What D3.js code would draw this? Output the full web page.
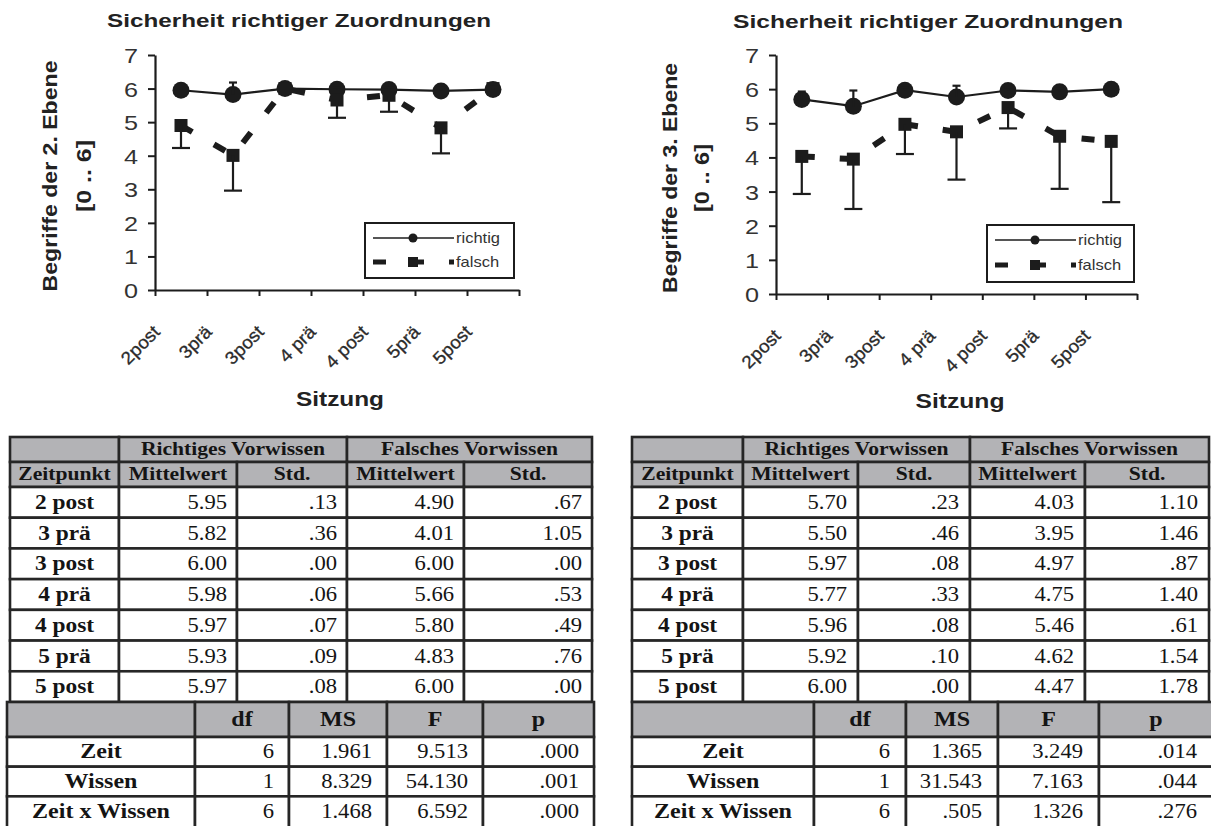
<!DOCTYPE html>
<html><head><meta charset="utf-8">
<script src="https://cdn.jsdelivr.net/npm/d3@7"></script>
<style>body{margin:0;background:#fff} svg{display:block}</style>
</head><body>
<svg id="c" width="1211" height="826"></svg>
<script>
// ---------------- DATA ----------------
const chartLabels = ["2post", "3prä", "3post", "4 prä", "4 post", "5prä", "5post"];
const tableLabels = ["2 post", "3 prä", "3 post", "4 prä", "4 post", "5 prä", "5 post"];
const yTicks = [0, 1, 2, 3, 4, 5, 6, 7];
const chartTitle = "Sicherheit richtiger Zuordnungen";
const xTitle = "Sitzung";
const yTitle2 = "Begriffe der 2. Ebene";
const yTitle3 = "Begriffe der 3. Ebene";
const yTitleSub = "[0 .. 6]";
const seriesNames = ["richtig", "falsch"];

// Ebene 2
const e2RichtigMean = [5.95, 5.82, 6.00, 5.98, 5.97, 5.93, 5.97];
const e2RichtigStd  = [0.13, 0.36, 0.00, 0.06, 0.07, 0.09, 0.08];
const e2FalschMean  = [4.90, 4.01, 6.00, 5.66, 5.80, 4.83, 6.00];
const e2FalschStd   = [0.67, 1.05, 0.00, 0.53, 0.49, 0.76, 0.00];
// Ebene 3
const e3RichtigMean = [5.70, 5.50, 5.97, 5.77, 5.96, 5.92, 6.00];
const e3RichtigStd  = [0.23, 0.46, 0.08, 0.33, 0.08, 0.10, 0.00];
const e3FalschMean  = [4.03, 3.95, 4.97, 4.75, 5.46, 4.62, 4.47];
const e3FalschStd   = [1.10, 1.46, 0.87, 1.40, 0.61, 1.54, 1.78];

// ANOVA
const anovaRows = ["Zeit", "Wissen", "Zeit x Wissen"];
const anovaHeads = ["df", "MS", "F", "p"];
const e2Df = [6, 1, 6];
const e2MS = [1.961, 8.329, 1.468];
const e2F  = [9.513, 54.130, 6.592];
const e2P  = [0.000, 0.001, 0.000];
const e3Df = [6, 1, 6];
const e3MS = [1.365, 31.543, 0.505];
const e3F  = [3.249, 7.163, 1.326];
const e3P  = [0.014, 0.044, 0.276];

const groupHeads = ["Richtiges Vorwissen", "Falsches Vorwissen"];
const colHeads = ["Zeitpunkt", "Mittelwert", "Std.", "Mittelwert", "Std."];

// ---------------- LAYOUT ----------------
const SANS = "'Liberation Sans', Arial, sans-serif";
const SERIF = "'Liberation Serif', 'Times New Roman', serif";
const INK = "#1c1c1c";
const TXT = "#222";
const HEAD = "#b3b3b6";

const svg = d3.select("#c");

function fitW(sel, w) {
  sel.attr("textLength", w).attr("lengthAdjust", "spacingAndGlyphs");
}
function stretch(sel, k) {
  sel.each(function () {
    const L = this.getComputedTextLength();
    this.setAttribute("textLength", L * k);
    this.setAttribute("lengthAdjust", "spacingAndGlyphs");
  });
}

function drawChart(cfg, yTitle, rMean, rStd, fMean, fStd) {
  const g = svg.append("g");
  const p = cfg.plot;
  const x = d3.scaleBand().domain(chartLabels).range([p.x0, p.x1]).padding(0);
  const xb = d3.scaleLinear().domain([0, chartLabels.length]).range([p.x0, p.x1]);
  const y = d3.scaleLinear().domain([0, 7]).range([p.yBot, p.yTop]);
  const cx = (i) => x(chartLabels[i]) + x.bandwidth() / 2;

  // title
  g.append("text").attr("x", cfg.title.cx).attr("y", cfg.title.y)
    .attr("text-anchor", "middle").attr("font-family", SANS).attr("font-weight", "bold")
    .attr("font-size", 19).attr("fill", TXT).text(chartTitle).call(fitW, cfg.title.w);

  // y titles
  g.append("text").attr("transform", `translate(${cfg.ytitle.xa},${cfg.ytitle.cy}) rotate(-90)`)
    .attr("text-anchor", "middle").attr("font-family", SANS).attr("font-weight", "bold")
    .attr("font-size", 20).attr("fill", TXT).text(yTitle).call(fitW, cfg.ytitle.wa);
  g.append("text").attr("transform", `translate(${cfg.ytitle.xb},${cfg.ytitle.cy}) rotate(-90)`)
    .attr("text-anchor", "middle").attr("font-family", SANS).attr("font-weight", "bold")
    .attr("font-size", 20).attr("fill", TXT).text(yTitleSub).call(fitW, cfg.ytitle.wb);

  // y axis
  const ya = g.append("g").attr("transform", `translate(${p.x0},0)`)
    .call(d3.axisLeft(y).tickValues(yTicks).tickFormat(d3.format("d")).tickSize(7).tickSizeOuter(0).tickPadding(10));
  ya.select(".domain").attr("stroke", INK).attr("stroke-width", 2.2);
  ya.selectAll(".tick line").attr("stroke", INK).attr("stroke-width", 2);
  ya.selectAll(".tick text").attr("font-family", SANS).attr("font-size", 21).attr("fill", "#333")
    .attr("dy", "0.36em").call(stretch, 1.2);

  // x axis (ticks at category boundaries)
  const xa = g.append("g").attr("transform", `translate(0,${p.yBot})`)
    .call(d3.axisBottom(xb).tickValues(d3.range(chartLabels.length + 1)).tickFormat("").tickSize(6).tickSizeOuter(0));
  xa.select(".domain").attr("stroke", INK).attr("stroke-width", 2.2);
  xa.selectAll(".tick line").attr("stroke", INK).attr("stroke-width", 2);

  // rotated category labels
  g.selectAll("text.xl").data(chartLabels).join("text").attr("class", "xl")
    .attr("transform", (d, i) => `translate(${cx(i) - 20},${p.yBot + 43}) rotate(-45)`)
    .attr("text-anchor", "end").attr("font-family", SANS).attr("font-size", 18).attr("fill", "#2a2a2a")
    .attr("stroke", "#2a2a2a").attr("stroke-width", 0.3)
    .text(d => d).call(stretch, 1.05);

  // x title
  g.append("text").attr("x", cfg.xtitle.cx).attr("y", cfg.xtitle.y)
    .attr("text-anchor", "middle").attr("font-family", SANS).attr("font-weight", "bold")
    .attr("font-size", 20).attr("fill", TXT).text(xTitle).call(fitW, cfg.xtitle.w);

  const line = d3.line().x((d, i) => cx(i)).y(d => y(d));

  // falsch dashed line
  g.append("path").datum(fMean).attr("d", line).attr("fill", "none")
    .attr("stroke", INK).attr("stroke-width", 6).attr("stroke-dasharray", "13,25");
  // richtig solid line
  g.append("path").datum(rMean).attr("d", line).attr("fill", "none")
    .attr("stroke", INK).attr("stroke-width", 2.2);

  // error bars
  const eb = (mean, std, dir, cap) => {
    const data = mean.map((m, i) => ({ i, m, s: std[i] })).filter(d => d.s > 0);
    const gg = g.append("g").attr("stroke", INK).attr("stroke-width", 2.2);
    gg.selectAll("line.v").data(data).join("line").attr("class", "v")
      .attr("x1", d => cx(d.i)).attr("x2", d => cx(d.i))
      .attr("y1", d => y(d.m)).attr("y2", d => y(d.m + dir * d.s));
    gg.selectAll("line.c").data(data).join("line").attr("class", "c")
      .attr("x1", d => cx(d.i) - cap / 2).attr("x2", d => cx(d.i) + cap / 2)
      .attr("y1", d => y(d.m + dir * d.s)).attr("y2", d => y(d.m + dir * d.s));
  };

  // markers
  g.selectAll("circle.r").data(rMean).join("circle").attr("class", "r")
    .attr("cx", (d, i) => cx(i)).attr("cy", d => y(d)).attr("r", 8.5).attr("fill", INK);
  g.selectAll("rect.f").data(fMean).join("rect").attr("class", "f")
    .attr("x", (d, i) => cx(i) - 6.5).attr("y", d => y(d) - 6.5)
    .attr("width", 13).attr("height", 13).attr("fill", INK);
  eb(rMean, rStd, 1, 8);
  eb(fMean, fStd, -1, 18);

  // legend
  const L = cfg.legend;
  const lg = g.append("g").attr("transform", `translate(${L.x},${L.y})`);
  lg.append("rect").attr("width", L.w).attr("height", L.h).attr("fill", "#fff")
    .attr("stroke", INK).attr("stroke-width", 2);
  const r1 = L.r1, r2 = L.r2;
  lg.append("line").attr("x1", 8).attr("x2", 89).attr("y1", r1).attr("y2", r1)
    .attr("stroke", INK).attr("stroke-width", 1.6);
  lg.append("circle").attr("cx", 48).attr("cy", r1).attr("r", 4.5).attr("fill", INK);
  lg.append("line").attr("x1", 8).attr("x2", 89).attr("y1", r2).attr("y2", r2)
    .attr("stroke", INK).attr("stroke-width", 5).attr("stroke-dasharray", "13,25");
  lg.append("rect").attr("x", 43).attr("y", r2 - 5).attr("width", 10).attr("height", 10).attr("fill", INK);
  lg.selectAll("text").data(seriesNames).join("text")
    .attr("x", 91).attr("y", (d, i) => (i ? r2 : r1) + 5)
    .attr("font-family", SANS).attr("font-size", 15).attr("fill", "#333")
    .text(d => d).call(stretch, 1.1);
}

const fmt2 = d3.format(".2f");
const noLead = s => s.replace(/^0\./, ".");
const fmtStd = v => noLead(fmt2(v));
const fmt3 = v => noLead(d3.format(".3f")(v));

function drawTables(cfg, rMean, rStd, fMean, fStd, df, ms, F, P) {
  const g = svg.append("g");
  const c = cfg.cols, yTop = cfg.yTop, yH1 = yTop + 25, yH2 = yH1 + 25, yEnd = cfg.yEnd;
  const rh = (yEnd - yH2) / tableLabels.length;
  const cells = [];
  // header row 1
  cells.push({ x0: c[0], x1: c[1], y0: yTop, y1: yH1, fill: HEAD, t: "" });
  cells.push({ x0: c[1], x1: c[3], y0: yTop, y1: yH1, fill: HEAD, t: groupHeads[0], a: "middle", b: 1, fs: 18, k: 1.2 });
  cells.push({ x0: c[3], x1: c[5], y0: yTop, y1: yH1, fill: HEAD, t: groupHeads[1], a: "middle", b: 1, fs: 18, k: 1.2 });
  colHeads.forEach((h, j) => cells.push({ x0: c[j], x1: c[j + 1], y0: yH1, y1: yH2, fill: HEAD, t: h, a: "middle", b: 1, fs: 18, k: 1.2 }));
  tableLabels.forEach((lab, i) => {
    const y0 = yH2 + i * rh, y1 = y0 + rh;
    const vals = [lab, fmt2(rMean[i]), fmtStd(rStd[i]), fmt2(fMean[i]), fmtStd(fStd[i])];
    vals.forEach((v, j) => cells.push({ x0: c[j], x1: c[j + 1], y0, y1, fill: "#fff", t: v,
      a: j ? "end" : "middle", b: j ? 0 : 1, fs: 20, k: j ? 1.13 : 1.17, pad: cfg.pad }));
  });
  // ANOVA
  const a = cfg.acols, aTop = yEnd, aH = aTop + 35;
  const arh = (826 - aH) / anovaRows.length;
  cells.push({ x0: a[0], x1: a[1], y0: aTop, y1: aH, fill: HEAD, t: "" });
  anovaHeads.forEach((h, j) => cells.push({ x0: a[j + 1], x1: a[j + 2], y0: aTop, y1: aH, fill: HEAD, t: h, a: "middle", b: 1, fs: 20, k: 1.2 }));
  anovaRows.forEach((lab, i) => {
    const y0 = aH + i * arh, y1 = y0 + arh;
    const vals = [lab, String(df[i]), fmt3(ms[i]), fmt3(F[i]), fmt3(P[i])];
    vals.forEach((v, j) => cells.push({ x0: a[j], x1: a[j + 1], y0, y1: y1 + (i === 2 ? 4 : 0), fill: "#fff", t: v,
      a: j ? "end" : "middle", b: j ? 0 : 1, fs: 20, k: j ? 1.13 : 1.2, pad: cfg.apad }));
  });

  g.selectAll("rect").data(cells).join("rect")
    .attr("x", d => d.x0).attr("y", d => d.y0).attr("width", d => d.x1 - d.x0).attr("height", d => d.y1 - d.y0)
    .attr("fill", d => d.fill).attr("stroke", "#262626").attr("stroke-width", 2.6);
  g.selectAll("text").data(cells.filter(d => d.t)).join("text")
    .attr("x", d => d.a === "middle" ? (d.x0 + d.x1) / 2 : d.x1 - d.pad)
    .attr("y", d => (d.y0 + Math.min(d.y1, 826) ) / 2 + d.fs * 0.33)
    .attr("text-anchor", d => d.a).attr("font-family", SERIF)
    .attr("font-weight", d => d.b ? "bold" : "normal").attr("font-size", d => d.fs)
    .attr("fill", "#141414").text(d => d.t)
    .each(function (d) { d3.select(this).call(stretch, d.k); });
}

drawChart({
  plot: { x0: 155, x1: 519, yTop: 55, yBot: 290 },
  title: { cx: 299, y: 27, w: 384 },
  ytitle: { xa: 57, xb: 91, cy: 176, wa: 231, wb: 72 },
  xtitle: { cx: 340, y: 406, w: 88 },
  legend: { x: 365, y: 223, w: 149, h: 55, r1: 15, r2: 39 }
}, yTitle2, e2RichtigMean, e2RichtigStd, e2FalschMean, e2FalschStd);

drawChart({
  plot: { x0: 776, x1: 1137, yTop: 55, yBot: 294 },
  title: { cx: 928, y: 28, w: 390 },
  ytitle: { xa: 677, xb: 709, cy: 178, wa: 230, wb: 68 },
  xtitle: { cx: 960, y: 408, w: 89 },
  legend: { x: 987, y: 225, w: 147, h: 57, r1: 15, r2: 40 }
}, yTitle3, e3RichtigMean, e3RichtigStd, e3FalschMean, e3FalschStd);

drawTables({ cols: [10, 119, 237, 347, 464, 592], yTop: 437, yEnd: 702, pad: 10,
  acols: [7, 195, 289, 387, 483, 594], apad: 15 },
  e2RichtigMean, e2RichtigStd, e2FalschMean, e2FalschStd, e2Df, e2MS, e2F, e2P);
drawTables({ cols: [632, 743, 858, 970, 1085, 1209], yTop: 437, yEnd: 702, pad: 11,
  acols: [632, 814, 906, 998, 1099, 1213], apad: 16 },
  e3RichtigMean, e3RichtigStd, e3FalschMean, e3FalschStd, e3Df, e3MS, e3F, e3P);
</script>
</body></html>
